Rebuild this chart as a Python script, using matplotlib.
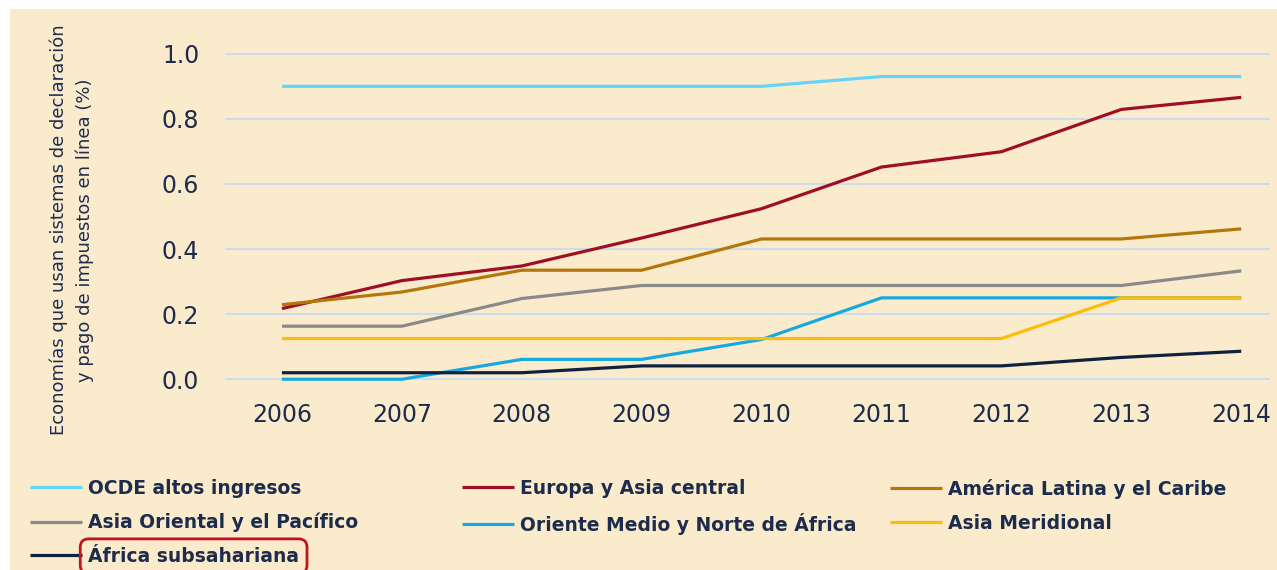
import matplotlib.pyplot as plt
from matplotlib.patches import Rectangle

years = [2006, 2007, 2008, 2009, 2010, 2011, 2012, 2013, 2014]

ocde = [0.90, 0.90, 0.90, 0.90, 0.90, 0.93, 0.93, 0.93, 0.93]
europa = [0.217, 0.303, 0.348, 0.434, 0.524, 0.652, 0.699, 0.829, 0.866]
america_latina = [0.229, 0.268, 0.335, 0.335, 0.431, 0.431, 0.431, 0.431, 0.462]
asia_oriental = [0.163, 0.163, 0.248, 0.288, 0.288, 0.288, 0.288, 0.288, 0.333]
oriente_medio = [0.0, 0.0, 0.061, 0.061, 0.122, 0.25, 0.25, 0.25, 0.25]
asia_meridional = [0.125, 0.125, 0.125, 0.125, 0.125, 0.125, 0.125, 0.25, 0.25]
africa = [0.02, 0.02, 0.02, 0.041, 0.041, 0.041, 0.041, 0.067, 0.086]

y_ticks = [0.0, 0.2, 0.4, 0.6, 0.8, 1.0]
y_tick_labels = ["0.0", "0.2", "0.4", "0.6", "0.8", "1.0"]

BG = "#fbebcd"
NAVY = "#1d2c4c"
W, H = 1277, 570

fig = plt.figure(figsize=(W / 100, H / 100), dpi=100, facecolor="white")
fig.add_artist(Rectangle((10 / W, 0), 1 - 10 / W, 561 / H, transform=fig.transFigure,
                         facecolor=BG, edgecolor="none", zorder=0))

ax = fig.add_axes([225 / W, 181 / H, (1270 - 225) / W, (532.5 - 181) / H])
ax.set_facecolor("none")

series = [
    ("OCDE altos ingresos", ocde, "#66d4f6"),
    ("Europa y Asia central", europa, "#9e0f26"),
    ("América Latina y el Caribe", america_latina, "#b3770b"),
    ("Asia Oriental y el Pacífico", asia_oriental, "#8a8a8a"),
    ("Oriente Medio y Norte de África", oriente_medio, "#16a9df"),
    ("Asia Meridional", asia_meridional, "#fcbd0a"),
    ("África subsahariana", africa, "#0e2240"),
]
lines = {}
for name, vals, col in series:
    (ln,) = ax.plot(years, vals, color=col, lw=2.3, label=name, solid_capstyle="butt")
    lines[name] = ln

ax.set_xlim(2005.525, 2014.24)
ax.set_ylim(-0.03, 1.05)
ax.set_xticks(years)
ax.set_xticklabels([str(y) for y in years])
ax.set_yticks(y_ticks)
ax.set_yticklabels(y_tick_labels)
ax.tick_params(axis="both", length=0, labelsize=17, labelcolor=NAVY)
ax.tick_params(axis="y", pad=18.5)
ax.tick_params(axis="x", pad=10)
ax.yaxis.grid(True, color="#c6dbf3", lw=1.3)
ax.set_axisbelow(True)
for s in ax.spines.values():
    s.set_visible(False)

fig.text(72 / W, 1 - 230 / H,
         "Economías que usan sistemas de declaración\ny pago de impuestos en línea (%)",
         rotation=90, ha="center", va="center", fontsize=13, linespacing=1.55,
         color=NAVY, multialignment="center")

columns = [
    (30, ["OCDE altos ingresos", "Asia Oriental y el Pacífico", "África subsahariana"]),
    (462, ["Europa y Asia central", "Oriente Medio y Norte de África"]),
    (890, ["América Latina y el Caribe", "Asia Meridional"]),
]
legends = []
for x0, names in columns:
    leg = fig.legend([lines[n] for n in names], names, loc="upper left",
                     bbox_to_anchor=(x0 / W, 1 - 479 / H), frameon=False,
                     borderpad=0, borderaxespad=0, handlelength=2.75,
                     handletextpad=0.35, labelspacing=0.78,
                     prop={"size": 13.5, "weight": "bold"})
    for t in leg.get_texts():
        t.set_color(NAVY)
    legends.append(leg)

legends[0].get_texts()[2].set_bbox(dict(boxstyle="round,pad=0.42,rounding_size=0.45",
                                        facecolor="none", edgecolor="#c0141f", lw=2))

fig.savefig("out.png", dpi=100)
